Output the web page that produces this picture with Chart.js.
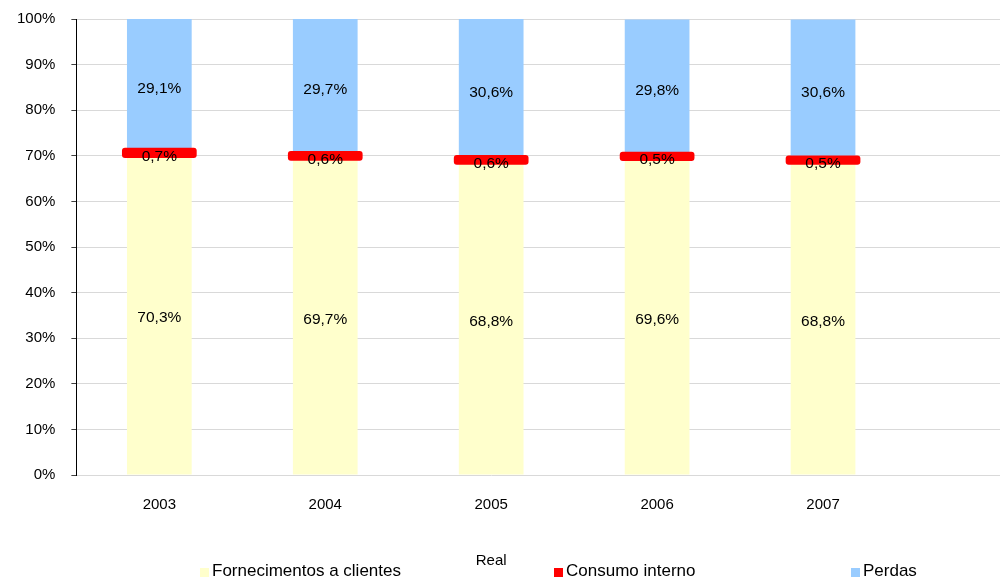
<!DOCTYPE html>
<html>
<head>
<meta charset="utf-8">
<script src="https://cdn.jsdelivr.net/npm/chart.js@4"></script>
<style>
  html, body { margin: 0; padding: 0; background: #fff; overflow: hidden; }
  #wrap { position: relative; width: 1000px; height: 582px; }
  .leg { position: absolute; top: 562px; font: 17px 'Liberation Sans', Arial, sans-serif; line-height: 1; color: #000; white-space: nowrap; }
  .leg i { position: absolute; top: 6px; width: 9px; height: 9px; }
</style>
</head>
<body>
<div id="wrap">
  <canvas id="chart"></canvas>
  <div class="leg" style="left:212px"><i style="left:-12px;background:#FFFFCC"></i>Fornecimentos a clientes</div>
  <div class="leg" style="left:566px"><i style="left:-12px;background:#FF0000"></i>Consumo interno</div>
  <div class="leg" style="left:863px"><i style="left:-12px;background:#99CCFF"></i>Perdas</div>
</div>
<script>
/* ---------- DATA ---------- */
const anos          = ['2003', '2004', '2005', '2006', '2007'];
const fornecimentos = [70.3, 69.7, 68.8, 69.6, 68.8];
const consumo       = [0.7, 0.6, 0.6, 0.5, 0.5];
const perdas        = [29.1, 29.7, 30.6, 29.8, 30.6];

const FONT = "'Liberation Sans', Arial, sans-serif";
const COLORS = { amarelo: '#FFFFCC', vermelho: '#FF0000', azul: '#99CCFF', grid: '#d9d9d9' };

const fmt = v => v.toFixed(1).replace('.', ',') + '%';

// prolonga as linhas de grelha até à margem direita
const gridExtend = {
  id: 'gridExtend',
  beforeDatasetsDraw(chart) {
    const { ctx, chartArea, scales } = chart;
    ctx.save();
    ctx.strokeStyle = COLORS.grid;
    ctx.lineWidth = 1;
    scales.y.ticks.forEach(t => {
      const y = Math.round(scales.y.getPixelForValue(t.value) - 0.5) + 0.5;
      ctx.beginPath();
      ctx.moveTo(chartArea.right - 1, y);
      ctx.lineTo(chart.width, y);
      ctx.stroke();
    });
    ctx.restore();
  }
};

// traço vermelho grosso do consumo interno + rótulos
const labelsPlugin = {
  id: 'labelsPlugin',
  afterDatasetsDraw(chart) {
    const { ctx } = chart;
    ctx.save();
    const red = chart.getDatasetMeta(1);
    ctx.fillStyle = COLORS.vermelho;
    red.data.forEach(el => {
      const { x, y, base, width } = el.getProps(['x', 'y', 'base', 'width'], true);
      ctx.beginPath();
      ctx.roundRect(x - width / 2 - 5, y - 3.5, width + 10, base - y + 7, 3);
      ctx.fill();
    });
    ctx.font = '15.5px ' + FONT;
    ctx.fillStyle = '#000';
    ctx.textAlign = 'center';
    ctx.textBaseline = 'middle';
    chart.data.datasets.forEach((ds, di) => {
      chart.getDatasetMeta(di).data.forEach((el, i) => {
        const { x, y, base } = el.getProps(['x', 'y', 'base'], true);
        const top = Math.max(y, chart.chartArea.top);
        ctx.fillText(fmt(ds.data[i]), x, (top + base) / 2 + 3.5);
      });
    });
    ctx.restore();
  }
};

new Chart(document.getElementById('chart'), {
  type: 'bar',
  data: {
    labels: anos,
    datasets: [
      { label: 'Fornecimentos a clientes', data: fornecimentos, backgroundColor: COLORS.amarelo },
      { label: 'Consumo interno', data: consumo, backgroundColor: COLORS.vermelho },
      { label: 'Perdas', data: perdas, backgroundColor: COLORS.azul }
    ]
  },
  options: {
    responsive: true,
    maintainAspectRatio: false,
    animation: false,
    layout: { padding: { left: 1, right: 94, top: 19, bottom: 12 } },
    datasets: { bar: { barPercentage: 0.39, categoryPercentage: 1, inflateAmount: 0, borderWidth: 0 } },
    plugins: { legend: { display: false }, tooltip: { enabled: false } },
    scales: {
      x: {
        stacked: true,
        grid: { display: false, drawTicks: false },
        border: { display: false },
        ticks: { color: '#000', font: { family: FONT, size: 15 }, padding: 21 },
        title: { display: true, text: 'Real', color: '#000', font: { family: FONT, size: 15 }, padding: { top: 17, bottom: 0 } }
      },
      y: {
        stacked: true,
        min: 0,
        max: 100,
        ticks: { stepSize: 10, color: '#000', font: { family: FONT, size: 15 }, padding: 16, callback: v => v + '%' },
        grid: { color: COLORS.grid, tickColor: '#404040', tickLength: 5 },
        border: { color: '#000', width: 1 },
        afterFit(scale) { scale.paddingTop = 0; scale.paddingBottom = 0; }
      }
    }
  },
  plugins: [gridExtend, labelsPlugin]
});
</script>
</body>
</html>
